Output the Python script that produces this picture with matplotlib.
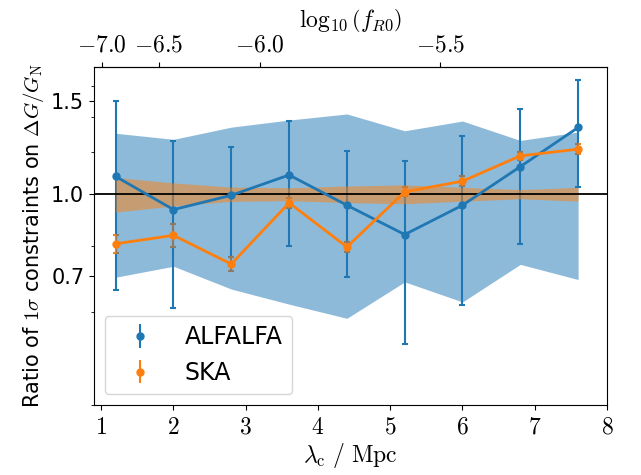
import numpy as np
import matplotlib
matplotlib.use("Agg")
import matplotlib.pyplot as plt
from matplotlib.ticker import FixedLocator, NullFormatter

plt.rcParams['mathtext.fontset'] = 'cm'
plt.rcParams['font.size'] = 15

# Data
lam_c = [1.2, 2.0, 2.8, 3.6, 4.4, 5.2, 6.0, 6.8, 7.6]

alfalfa_ratio = [1.08, 0.935, 0.995, 1.087, 0.953, 0.839, 0.953, 1.127, 1.336]
alfalfa_err = [0.42, 0.325, 0.234, 0.288, 0.255, 0.317, 0.334, 0.322, 0.306]
alfalfa_band = [0.303, 0.269, 0.338, 0.38, 0.417, 0.317, 0.374, 0.263, 0.31]

ska_ratio = [0.806, 0.836, 0.738, 0.963, 0.795, 1.01, 1.058, 1.181, 1.216]
ska_err = [0.031, 0.041, 0.022, 0.021, 0.018, 0.02, 0.023, 0.02, 0.027]
ska_band = [0.075, 0.05, 0.031, 0.028, 0.036, 0.041, 0.03, 0.02, 0.03]

yticks = [0.7, 1.0, 1.5]
yticklabels = ['0.7', '1.0', '1.5']
yminor = [0.4, 0.6, 0.8, 1.2, 1.4, 1.6]
xticks = [1, 2, 3, 4, 5, 6, 7, 8]
top_ticks = [-7.0, -6.5, -6.0, -5.5]

lam = np.array(lam_c)

fig = plt.figure(figsize=(6.41, 4.75), dpi=100)
ax = fig.add_axes([94/641, 1-405/475, (607-94)/641, (405-66.7)/475])

c0, c1 = 'C0', 'C1'

# error bars (below bands)
ax.errorbar(lam, alfalfa_ratio, yerr=alfalfa_err, fmt='none', ecolor=c0,
            elinewidth=1.5, capsize=2, capthick=1.5, zorder=1)
ax.errorbar(lam, ska_ratio, yerr=ska_err, fmt='none', ecolor=c1,
            elinewidth=1.5, capsize=2, capthick=1.5, zorder=1)

ab = np.array(alfalfa_band)
sb = np.array(ska_band)
ax.fill_between(lam, 1 - ab, 1 + ab, color=c0, alpha=0.5, lw=0, zorder=1.5)
ax.fill_between(lam, 1 - sb, 1 + sb, color=c1, alpha=0.5, lw=0, zorder=1.6)

ax.plot(lam, alfalfa_ratio, '-o', color=c0, lw=2, ms=5, zorder=3)
ax.plot(lam, ska_ratio, '-o', color=c1, lw=2, ms=5, zorder=3)

ax.axhline(1.0, color='k', lw=1.3, zorder=2.5)

# Legend proxies
h1 = ax.errorbar([], [], yerr=[], fmt='o', color=c0, ms=5, elinewidth=1.5, capsize=2, capthick=1.5)
h2 = ax.errorbar([], [], yerr=[], fmt='o', color=c1, ms=5, elinewidth=1.5, capsize=2, capthick=1.5)
ax.legend([h1, h2], ['ALFALFA', 'SKA'], loc='lower left', fontsize=17,
          borderaxespad=0.45, handlelength=2.2)

ax.set_yscale('log')
ax.set_ylim(0.4, 1.74)
ax.yaxis.set_major_locator(FixedLocator(yticks))
ax.set_yticklabels(yticklabels)
ax.yaxis.set_minor_locator(FixedLocator(yminor))
ax.yaxis.set_minor_formatter(NullFormatter())

ax.set_xlim(0.9, 8)
ax.set_xticks(xticks, [rf'${t}$' for t in xticks], fontsize=17)
ax.set_xlabel(r'$\lambda_{\rm c}\ /\ {\rm Mpc}$', fontsize=17, labelpad=2)
ax.set_ylabel(r'Ratio of $1\sigma$ constraints on $\Delta G/G_{\rm N}$', fontsize=15)


def fwd(l):
    l = np.asarray(l, dtype=float)
    l = np.where(l > 0, l, 1e-6)
    return 2 * np.log10(l / 32.0) - 4


def inv(f):
    f = np.asarray(f, dtype=float)
    return 32.0 * np.sqrt(10 ** (f + 4))


sec = ax.secondary_xaxis('top', functions=(fwd, inv))
sec.set_xticks(top_ticks, [rf'${t:.1f}$' for t in top_ticks], fontsize=17)
sec.set_xlabel(r'$\log_{10}\left(f_{R0}\right)$', fontsize=17, labelpad=4)

fig.savefig('out.png', dpi=100)
